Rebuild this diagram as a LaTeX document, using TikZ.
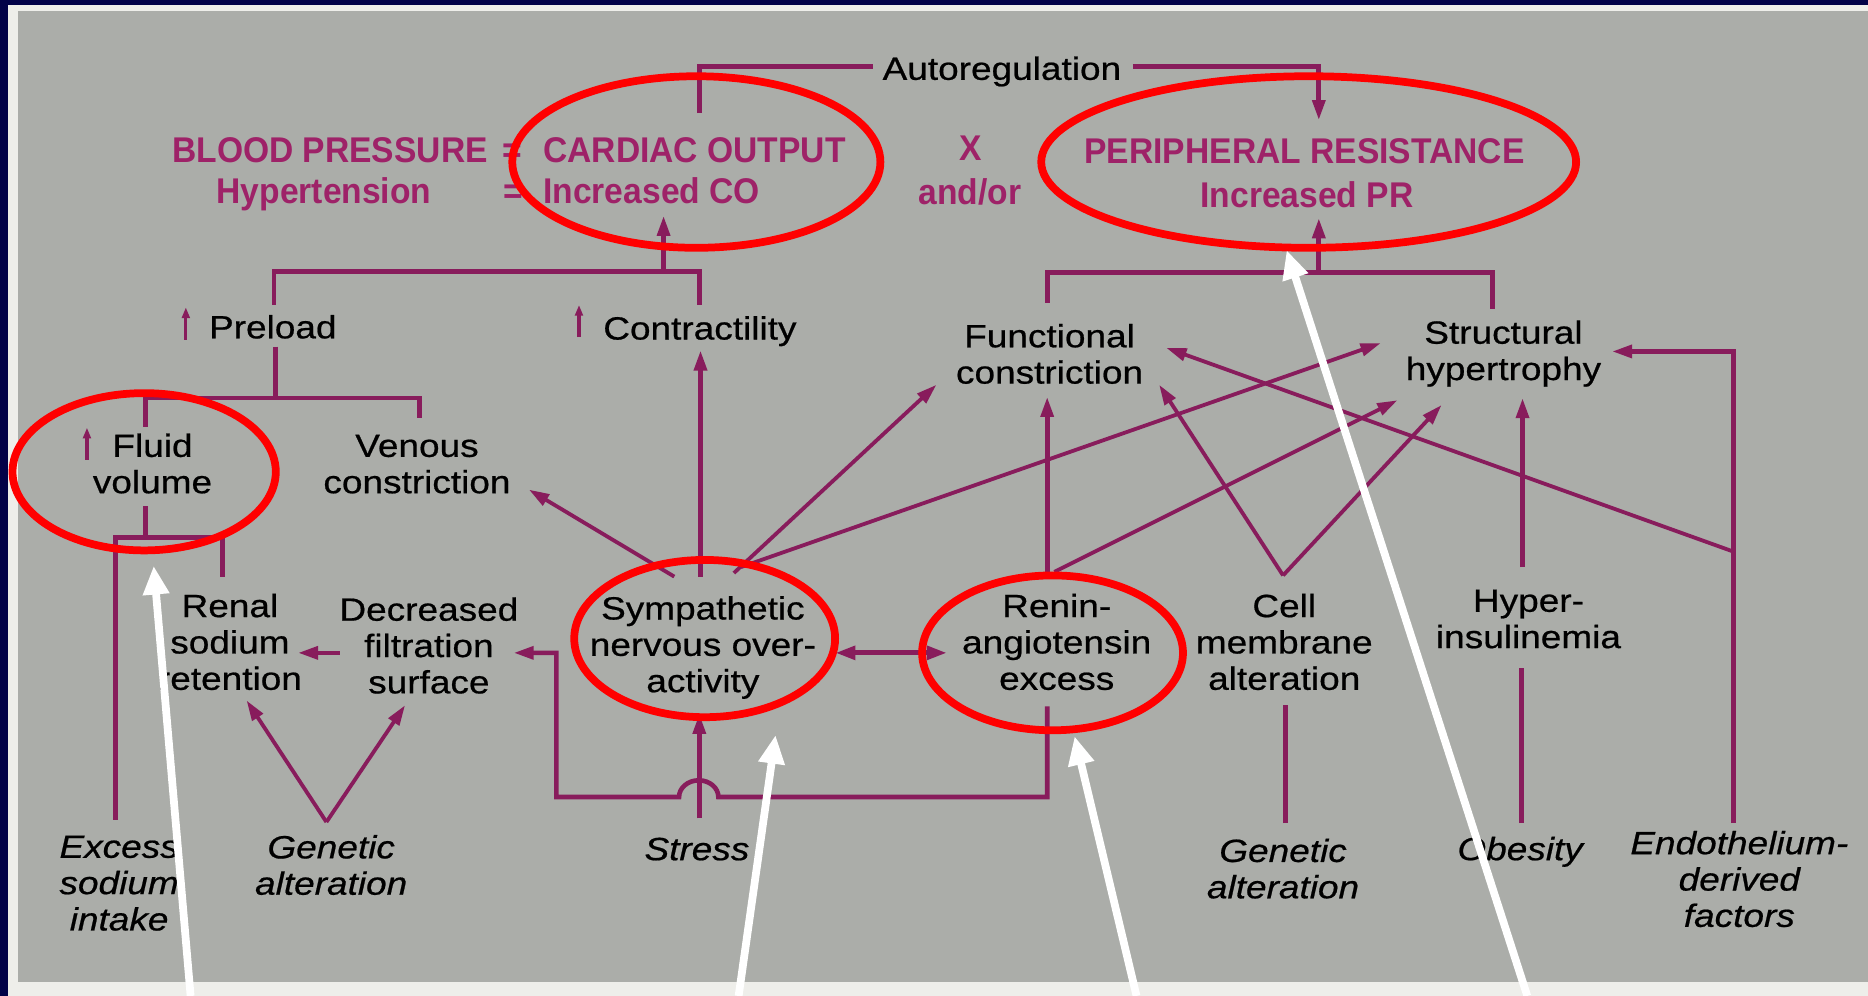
\documentclass[tikz,border=0pt]{standalone}
\usepackage{fontspec}
\usetikzlibrary{arrows.meta}
\newfontfamily\labfont{Liberation Sans}[FakeStretch=1.15,FakeBold=0.6]
\newfontfamily\ttlfont{Liberation Sans}[FakeStretch=0.94]
\definecolor{navy}{RGB}{2,2,72}
\definecolor{paper}{RGB}{238,238,234}
\definecolor{panel}{RGB}{171,173,169}
\definecolor{mag}{RGB}{158,34,104}
\definecolor{lin}{RGB}{136,28,92}
\definecolor{ringred}{RGB}{255,0,0}
\begin{document}
\begin{tikzpicture}[x=1pt, y=-1pt,
  lab/.style={font=\labfont\fontsize{27}{30.5}\selectfont, align=center, inner sep=0pt, anchor=base},
  src/.style={lab, font=\labfont\itshape\fontsize{27}{30.5}\selectfont},
  ttl/.style={font=\ttlfont\bfseries\fontsize{30}{35}\selectfont, text=mag, inner sep=0pt, anchor=base},
  ln/.style={draw=lin, line width=3.9pt},
  tipend/.style={-{Triangle[length=17pt,width=10.5pt]}},
  arr/.style={ln, tipend},
  darr/.style={draw=lin, line width=3.2pt, tipend},
  both/.style={draw=lin, line width=4.4pt, {Triangle[length=17pt,width=11pt]}-{Triangle[length=17pt,width=11pt]}},
  rise/.style={draw=lin, line width=2.6pt, -{Triangle[length=9pt,width=6.5pt]}},
  ring/.style={draw=ringred, line width=6.5pt},
  callout/.style={draw=white, line width=6.5pt, -{Triangle[length=24pt,width=21pt]}},
]
\useasboundingbox (0,0) rectangle (1568,836);
% slide frame and grey panel
\fill[navy] (0,0) rectangle (1568,836);
\fill[paper] (6.7,4.2) rectangle (1568,836);
\fill[panel] (15,9) rectangle (1568,824.5);

% ---- headline equations (multi-line nodes sit on the baseline of their last line)
\node[lab] (auto) at (841,67) {Autoregulation};
\node[ttl] (bp) at (277,136) {BLOOD PRESSURE};
\node[ttl] (eqA) at (430,136) {=};
\node[ttl] (cardiac) at (583,136) {CARDIAC OUTPUT};
\node[ttl] (times) at (815,135) {X};
\node[ttl] (pres) at (1095,137) {PERIPHERAL RESISTANCE};
\node[ttl] (hyp) at (272,171) {Hypertension};
\node[ttl] (eqB) at (431,171) {=};
\node[ttl] (incco) at (547,171) {Increased CO};
\node[ttl] (andor) at (814,172) {and/or};
\node[ttl] (incpr) at (1097,174) {Increased PR};

% ---- mechanisms
\node[lab] (pre) at (229,284) {Preload};
\node[lab] (con) at (587.5,285) {Contractility};
\node[lab] (fun) at (881,322) {Functional\\constriction};
\node[lab] (stru) at (1262,319) {Structural\\hypertrophy};
\node[lab] (flu) at (128,414) {Fluid\\volume};
\node[lab] (ven) at (350,414) {Venous\\constriction};
\node[lab] (ren) at (193,579) {Renal\\sodium\\retention};
\node[lab] (dec) at (360,582) {Decreased\\filtration\\surface};
\node[lab] (sym) at (590,581) {Sympathetic\\nervous over-\\activity};
\node[lab] (rai) at (887,579) {Renin-\\angiotensin\\excess};
\node[lab] (cel) at (1078,579) {Cell\\membrane\\alteration};
\node[lab] (hin) at (1283,544) {Hyper-\\insulinemia};

% ---- primary causes
\node[src] (exc) at (100,781) {Excess\\sodium\\intake};
\node[src] (genL) at (278,751) {Genetic\\alteration};
\node[src] (stress) at (585,722) {Stress};
\node[src] (genR) at (1077,754) {Genetic\\alteration};
\node[src] (obe) at (1276,722) {Obesity};
\node[src] (endo) at (1460,778) {Endothelium-\\derived\\factors};

% ---- connector end points
\coordinate (autoCO) at (587,95);
\coordinate (autoL) at (733,56);
\coordinate (autoR) at (951,56);
\coordinate (autoPR) at (1107,101);
\coordinate (coPre) at (230,256);
\coordinate (coCon) at (587,256);
\coordinate (coMid) at (557,228);
\coordinate (coTip) at (557,181);
\coordinate (prFun) at (879,254);
\coordinate (prStr) at (1253,259);
\coordinate (prMid) at (1107,229);
\coordinate (prTip) at (1107,183);
\coordinate (preFoot) at (231,291);
\coordinate (preMid) at (231,334);
\coordinate (preFlu) at (122,358);
\coordinate (preVen) at (352,351);
\coordinate (fluFoot) at (122,425);
\coordinate (fluMid) at (122,451);
\coordinate (excTop) at (97,688);
\coordinate (renTop) at (187,484);
\coordinate (decW) at (285,548);
\coordinate (renE) at (250,548);
\coordinate (raiFoot) at (879,593);
\coordinate (loopR) at (879,669);
\coordinate (hopR) at (603,669);
\coordinate (loopL) at (467,669);
\coordinate (loopUp) at (467,548);
\coordinate (decE) at (431,548);
\coordinate (stressTop) at (587,687);
\coordinate (symFoot) at (587,599);
\coordinate (genLv) at (274,690);
\coordinate (renFoot) at (207,588);
\coordinate (decFoot) at (340,592);
\coordinate (symA) at (566,484);
\coordinate (venTip) at (444,411);
\coordinate (symB) at (588,484);
\coordinate (conTip) at (588,294);
\coordinate (symC) at (616,481);
\coordinate (funTipA) at (786,323);
\coordinate (symD) at (622,476);
\coordinate (strTipA) at (1159,288);
\coordinate (symE) at (701,548);
\coordinate (raiW) at (795,548);
\coordinate (raiA) at (879,480);
\coordinate (funTipB) at (879,333);
\coordinate (raiB) at (885,480);
\coordinate (strTipB) at (1173,336);
\coordinate (celV) at (1077,483);
\coordinate (funTipC) at (973,323);
\coordinate (strTipC) at (1210,340);
\coordinate (genRTop) at (1079,691);
\coordinate (celFoot) at (1079,592);
\coordinate (hinTop) at (1278,476);
\coordinate (strTipD) at (1278,334);
\coordinate (obeTop) at (1277,691);
\coordinate (hinFoot) at (1277,561);
\coordinate (endoTop) at (1455,691);
\coordinate (endoCorner) at (1455,295);
\coordinate (strTipE) at (1353,295);
\coordinate (endoBranch) at (1455,463);
\coordinate (funTipD) at (979,292);

% ---- connectors
\draw[ln] (autoCO) |- (autoL);
\draw[arr] (autoR) -| (autoPR);
\draw[ln] (coPre) |- (coMid) -| (coCon);
\draw[arr] (coMid) -- (coTip);
\draw[ln] (prFun) |- (prMid) -| (prStr);
\draw[arr] (prMid) -- (prTip);
\draw[ln] (preFoot) -- (preMid);
\draw[ln] (preFlu) |- (preMid) -| (preVen);
\draw[ln] (fluFoot) -- (fluMid);
\draw[ln] (excTop) |- (fluMid) -| (renTop);
\draw[arr] (decW) -- (renE);
\draw[arr] (raiFoot) -- (loopR) -- (hopR)
  arc[start angle=0, end angle=-180, x radius=16.5, y radius=14]
  -- (loopL) -- (loopUp) -- (decE);
\draw[arr] (stressTop) -- (symFoot);
\draw[darr] (genLv) -- (renFoot);
\draw[darr] (genLv) -- (decFoot);
\draw[darr] (symA) -- (venTip);
\draw[arr] (symB) -- (conTip);
\draw[darr] (symC) -- (funTipA);
\draw[darr] (symD) -- (strTipA);
\draw[both] (symE) -- (raiW);
\draw[arr] (raiA) -- (funTipB);
\draw[darr] (raiB) -- (strTipB);
\draw[darr] (celV) -- (funTipC);
\draw[darr] (celV) -- (strTipC);
\draw[ln] (genRTop) -- (celFoot);
\draw[arr] (hinTop) -- (strTipD);
\draw[ln] (obeTop) -- (hinFoot);
\draw[arr] (endoTop) -- (endoCorner) -- (strTipE);
\draw[darr] (endoBranch) -- (funTipD);

% small "increase" arrows beside the labels
\coordinate (preUp) at (156,285);
\coordinate (conUp) at (486,283);
\coordinate (fluUp) at (73,386);
\draw[rise] (preUp) -- ++(0,-27);
\draw[rise] (conUp) -- ++(0,-27);
\draw[rise] (fluUp) -- ++(0,-27);

% ---- red highlight rings
\draw[ring] (584.5,136) ellipse [x radius=154.5, y radius=72];
\draw[ring] (1098.5,136) ellipse [x radius=224.5, y radius=72];
\draw[ring] (121,396) ellipse [x radius=110.5, y radius=66];
\draw[ring] (591.5,536) ellipse [x radius=109.5, y radius=66];
\draw[ring] (883.5,548) ellipse [x radius=109.5, y radius=65];

% ---- white pointers
\coordinate (wA) at (160,836);
\coordinate (wB) at (620,836);
\coordinate (wC) at (954,836);
\coordinate (wD) at (1282,836);
\coordinate (wAt) at (129,475);
\coordinate (wBt) at (651,617);
\coordinate (wCt) at (902,618);
\coordinate (wDt) at (1080,210);
\draw[callout] (wA) -- (wAt);
\draw[callout] (wB) -- (wBt);
\draw[callout] (wC) -- (wCt);
\draw[callout] (wD) -- (wDt);
\end{tikzpicture}
\end{document}
